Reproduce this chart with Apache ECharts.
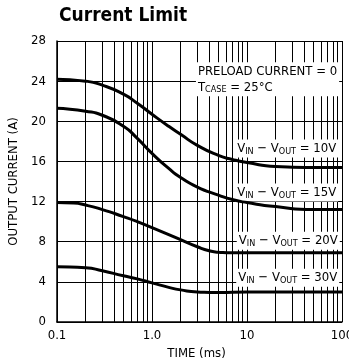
<!DOCTYPE html>
<html>
<head>
<meta charset="utf-8">
<script src="https://cdn.jsdelivr.net/npm/echarts@6/dist/echarts.min.js"></script>
<style>
  html, body { margin: 0; padding: 0; background: #fff; }
  #chart { width: 349px; height: 364px; }
</style>
</head>
<body>
<div id="chart"></div>
<script>
var FONT = '"Liberation Sans Narrow", "DejaVu Sans Condensed", "Liberation Sans", sans-serif';

// time (ms), output current (A)
var v10 = [[0.1, 24.2], [0.2, 24.0], [0.3, 23.6], [0.5, 22.7], [0.7, 21.8], [1, 20.7], [1.5, 19.5],
           [2, 18.7], [3, 17.6], [5, 16.6], [7, 16.2], [10, 15.9], [20, 15.5], [50, 15.4], [100, 15.4]];
var v15 = [[0.1, 21.3], [0.2, 21.0], [0.3, 20.6], [0.5, 19.5], [0.7, 18.3], [1, 16.8], [1.5, 15.3],
           [2, 14.4], [3, 13.45], [5, 12.65], [7, 12.2], [10, 11.9], [20, 11.5], [50, 11.2], [100, 11.2]];
var v20 = [[0.1, 11.9], [0.15, 11.85], [0.2, 11.65], [0.3, 11.2], [0.5, 10.5], [0.7, 10.0], [1, 9.4],
           [1.5, 8.7], [2, 8.2], [3, 7.5], [4, 7.1], [5, 6.95], [7, 6.9], [20, 6.9], [100, 6.9]];
var v30 = [[0.1, 5.5], [0.2, 5.4], [0.3, 5.1], [0.5, 4.6], [0.7, 4.3], [1, 3.9], [1.5, 3.45],
           [2, 3.2], [3, 3.0], [5, 2.95], [10, 3.0], [100, 3.0]];

var curveLabels = ['10V', '15V', '20V', '30V'];
var labelAt = [[7.5, 17.3], [7.5, 12.9], [7.8, 8.1], [7.7, 4.4]];

var minorX = [0.2, 0.3, 0.4, 0.5, 0.6, 0.7, 0.8, 0.9,
              2, 3, 4, 5, 6, 7, 8, 9,
              20, 30, 40, 50, 60, 70, 80, 90];

var rich = {
  a: { fontFamily: FONT, fontSize: 13, color: '#000' },
  b: { fontFamily: FONT, fontSize: 9, color: '#000', padding: [6, 0, 0, 0] }
};

function textLabel(text, coord) {
  return {
    coord: coord,
    label: {
      show: true,
      position: 'right',
      distance: 0,
      backgroundColor: '#fff',
      padding: [1, 2, 1, 2],
      lineHeight: 16,
      formatter: text,
      rich: rich
    }
  };
}

var labels = curveLabels.map(function (c, i) {
  return textLabel('{a|V}{b|IN}{a| \u2212 V}{b|OUT}{a| = ' + c + '}', labelAt[i]);
});
labels.push(textLabel('{a|PRELOAD CURRENT = 0}\n{a|T}{b|CASE}{a| = 25\u00b0C}', [2.9, 24.2]));

var series = [v10, v15, v20, v30].map(function (data) {
  return {
    type: 'line',
    data: data,
    smooth: 0.6,
    showSymbol: false,
    lineStyle: { color: '#000', width: 3 },
    z: 3
  };
});

// log-paper minor grid lines and the text boxes
series.push({
  type: 'line',
  data: [],
  z: 1,
  markLine: {
    silent: true,
    z: 1,
    symbol: 'none',
    label: { show: false },
    lineStyle: { color: '#000', width: 1, type: 'solid' },
    data: minorX.map(function (v) { return { xAxis: v }; })
  },
  markPoint: {
    symbol: 'rect',
    symbolSize: 0,
    silent: true,
    z: 2,
    data: labels
  }
});

var chart = echarts.init(document.getElementById('chart'));
chart.setOption({
  animation: false,
  title: {
    text: 'Current Limit',
    left: 54,
    top: 2,
    textStyle: { fontFamily: FONT, fontSize: 19, fontWeight: 'bold', color: '#000' }
  },
  grid: { left: 57, right: 7, top: 41, bottom: 42, outerBoundsMode: 'none', containLabel: false },
  xAxis: {
    type: 'log',
    logBase: 10,
    min: 0.1,
    max: 100,
    name: 'TIME (ms)',
    nameLocation: 'middle',
    nameGap: 24,
    nameTextStyle: { fontFamily: FONT, fontSize: 13, color: '#000', padding: [0, 6, 0, 0] },
    axisLine: { lineStyle: { color: '#000', width: 1.5 } },
    axisTick: { show: false },
    axisLabel: {
      fontFamily: FONT, fontSize: 13, color: '#000', margin: 7,
      formatter: function (v) { return v === 1 ? '1.0' : String(v); }
    },
    splitLine: { show: true, lineStyle: { color: '#000', width: 1 } }
  },
  yAxis: {
    type: 'value',
    min: 0,
    max: 28,
    interval: 4,
    name: 'OUTPUT CURRENT (A)',
    nameLocation: 'middle',
    nameGap: 37,
    nameTextStyle: { fontFamily: FONT, fontSize: 13, color: '#000' },
    axisLine: { show: true, lineStyle: { color: '#000', width: 1.5 } },
    axisTick: { show: false },
    axisLabel: { fontFamily: FONT, fontSize: 13, color: '#000', margin: 11 },
    splitLine: { show: true, lineStyle: { color: '#000', width: 1 } }
  },
  series: series
});
</script>
</body>
</html>
